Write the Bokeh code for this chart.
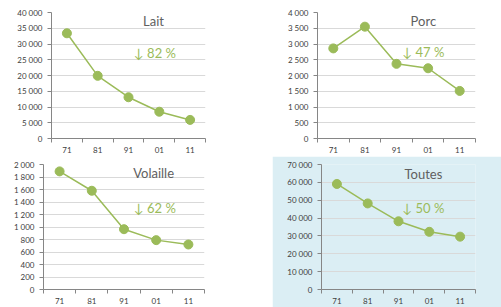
from bokeh.plotting import figure
from bokeh.models import Range1d, FixedTicker, Label
from bokeh.layouts import column, row
from bokeh.embed import file_html
from bokeh.resources import INLINE

# ---- data ----
years = ["71", "81", "91", "01", "11"]
lait = [33400, 19900, 13100, 8500, 5900]
porc = [2860, 3550, 2370, 2230, 1510]
volaille = [1890, 1580, 965, 790, 720]
toutes = [59100, 48200, 38200, 32300, 29600]
titles = ["Lait", "Porc", "Volaille", "Toutes"]
drops = ["\u2193 82 %", "\u2193 47 %", "\u2193 62 %", "\u2193 50 %"]
y_max = [40000, 4000, 2000, 70000]
y_step = [5000, 500, 200, 10000]

GREEN = "#9BBB59"
AXIS = "#868686"
GRID = "#D9D9D9"
TXT = "#404040"
BLUE = "#DBEEF4"
FONT = "Lato"


def fmt(v):
    return f"{v:,}".replace(",", " ")


def make(values, title, drop, ymax, step, fw, fh, bl, br, bt, bb,
         tpos, dpos, bg="white"):
    n = len(years)
    xs = [i + 0.5 for i in range(n)]
    p = figure(frame_width=fw, frame_height=fh,
               min_border_left=bl, min_border_right=br,
               min_border_top=bt, min_border_bottom=bb,
               x_range=Range1d(0, n), y_range=Range1d(0, ymax),
               output_backend="svg", toolbar_location=None)
    p.background_fill_color = bg
    p.border_fill_color = bg
    p.outline_line_color = None

    yt = list(range(0, ymax + 1, step))
    p.yaxis.ticker = FixedTicker(ticks=yt)
    p.yaxis.major_label_overrides = {v: fmt(v) for v in yt}
    p.ygrid.ticker = FixedTicker(ticks=yt)
    p.ygrid.grid_line_color = GRID
    p.xgrid.grid_line_color = None

    p.xaxis.ticker = FixedTicker(ticks=xs, minor_ticks=list(range(n + 1)))
    p.xaxis.major_label_overrides = {x: y for x, y in zip(xs, years)}
    p.xaxis.major_tick_line_color = None
    p.xaxis.major_tick_in = 0
    p.xaxis.major_tick_out = 4
    p.xaxis.minor_tick_in = 0
    p.xaxis.minor_tick_out = 4
    p.xaxis.minor_tick_line_color = AXIS
    p.xaxis.major_label_standoff = 4

    p.yaxis.major_tick_in = 0
    p.yaxis.major_tick_out = 4
    p.yaxis.minor_tick_line_color = None
    p.yaxis.major_tick_line_color = AXIS
    p.yaxis.major_label_standoff = 5

    for ax in (p.xaxis, p.yaxis):
        ax.axis_line_color = AXIS
        ax.major_label_text_font = FONT
        ax.major_label_text_font_size = "8px"
        ax.major_label_text_color = TXT

    p.line(xs, values, line_color=GREEN, line_width=1.5)
    p.scatter(xs, values, size=9, fill_color=GREEN, line_color=GREEN)

    p.add_layout(Label(x=tpos[0], y=tpos[1], text=title, text_align="center",
                       text_baseline="middle", text_font=FONT,
                       text_font_size="13px", text_color="#606060"))
    p.add_layout(Label(x=dpos[0], y=dpos[1], text=drop, text_align="center",
                       text_baseline="middle", text_font=FONT,
                       text_font_size="13px", text_color=GREEN))
    return p


p1 = make(lait, titles[0], drops[0], y_max[0], y_step[0],
          154, 126, 51, 67, 12, 18, (3.31, 37300), (3.36, 27300))
p2 = make(porc, titles[1], drops[1], y_max[1], y_step[1],
          158, 126, 45, 26, 12, 18, (3.35, 3730), (3.35, 2746))
p3 = make(volaille, titles[2], drops[2], y_max[2], y_step[2],
          161, 125, 43, 68, 8, 18, (3.42, 1868), (3.46, 1310))
p4 = make(toutes, titles[3], drops[3], y_max[3], y_step[3],
          154, 125, 49, 26, 8, 18, (3.31, 64700), (3.31, 45400), bg=BLUE)

layout = column(row(p1, p2), row(p3, p4))
open("out.html", "w").write(file_html(layout, INLINE))
